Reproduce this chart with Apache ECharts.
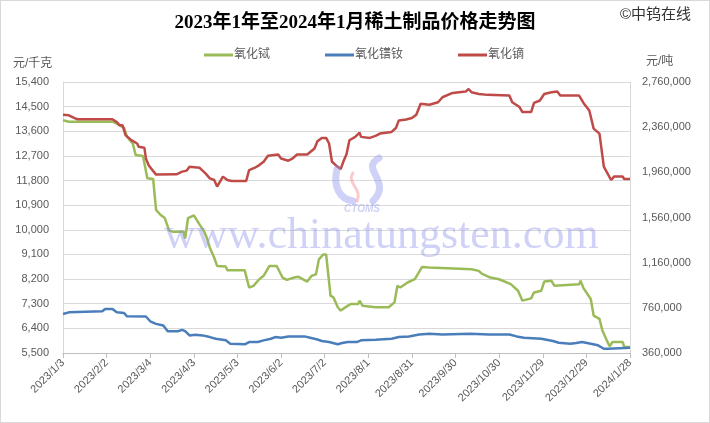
<!DOCTYPE html>
<html>
<head>
<meta charset="utf-8">
<script src="https://cdn.jsdelivr.net/npm/echarts@6/dist/echarts.min.js"></script>
<style>
html,body{margin:0;padding:0;background:#fff;}
#c{width:710px;height:423px;box-sizing:border-box;border:1px solid #d9d9d9;}
</style>
</head>
<body>
<div id="c"></div>
<script>
// X axis tick labels (every 30 days)
const xTickLabels = ['2023/1/3','2023/2/2','2023/3/4','2023/4/3','2023/5/3','2023/6/2','2023/7/2','2023/8/1','2023/8/31','2023/9/30','2023/10/30','2023/11/29','2023/12/29','2024/1/28'];
// Left axis ticks (元/千克) and right axis ticks (元/吨)
const leftTicks = [5500,6400,7300,8200,9100,10000,10900,11800,12700,13600,14500,15400];
const rightTicks = [360000,760000,1160000,1560000,1960000,2360000,2760000];

// 氧化铽 (元/千克, left axis)
const tbDates = ['2023/1/3','2023/1/7','2023/2/6','2023/2/9','2023/2/14','2023/2/16','2023/2/20','2023/2/22','2023/2/27','2023/2/28','2023/3/2','2023/3/6','2023/3/8','2023/3/11','2023/3/14','2023/3/17','2023/3/20','2023/3/27','2023/3/28','2023/3/30','2023/4/3','2023/4/7','2023/4/10','2023/4/12','2023/4/14','2023/4/17','2023/4/19','2023/4/25','2023/4/26','2023/5/8','2023/5/11','2023/5/14','2023/5/18','2023/5/21','2023/5/25','2023/5/30','2023/6/3','2023/6/6','2023/6/11','2023/6/14','2023/6/20','2023/6/23','2023/6/26','2023/6/28','2023/7/1','2023/7/3','2023/7/6','2023/7/8','2023/7/11','2023/7/13','2023/7/18','2023/7/20','2023/7/25','2023/7/26','2023/7/28','2023/8/6','2023/8/15','2023/8/19','2023/8/21','2023/8/23','2023/8/28','2023/9/2','2023/9/7','2023/9/12','2023/10/11','2023/10/16','2023/10/18','2023/10/24','2023/10/30','2023/11/7','2023/11/12','2023/11/15','2023/11/21','2023/11/23','2023/11/28','2023/11/30','2023/12/5','2023/12/7','2023/12/24','2023/12/25','2023/12/27','2024/1/1','2024/1/3','2024/1/7','2024/1/9','2024/1/12','2024/1/14','2024/1/16','2024/1/23','2024/1/24','2024/1/28'];
const tbValues = [14000,13950,13950,13880,13720,13400,13150,12730,12700,12430,11880,11860,10730,10550,10430,9970,9925,9925,9680,10430,10530,10190,9950,9700,9345,8980,8680,8656,8520,8520,7894,7955,8195,8318,8680,8680,8257,8173,8257,8282,8111,8318,8377,8920,9100,9100,7593,7532,7170,7050,7230,7289,7289,7410,7230,7170,7170,7350,7955,7894,8075,8195,8644,8620,8560,8500,8400,8257,8195,8014,7775,7412,7495,7713,7775,8111,8137,7955,8014,8137,7870,7471,6868,6745,6324,5962,5745,5900,5900,5719,5719];

// 氧化镨钕 (元/吨, right axis)
const prndDates = ['2023/1/3','2023/1/7','2023/1/30','2023/2/1','2023/2/6','2023/2/9','2023/2/14','2023/2/16','2023/3/1','2023/3/4','2023/3/8','2023/3/13','2023/3/16','2023/3/23','2023/3/26','2023/3/28','2023/3/31','2023/4/4','2023/4/9','2023/4/14','2023/4/18','2023/4/25','2023/4/28','2023/5/8','2023/5/11','2023/5/17','2023/5/21','2023/5/26','2023/5/29','2023/6/2','2023/6/7','2023/6/18','2023/6/22','2023/6/27','2023/6/30','2023/7/5','2023/7/11','2023/7/14','2023/7/18','2023/7/24','2023/7/27','2023/8/6','2023/8/17','2023/8/22','2023/8/29','2023/9/5','2023/9/12','2023/9/21','2023/10/10','2023/10/23','2023/11/6','2023/11/11','2023/11/16','2023/11/28','2023/12/6','2023/12/10','2023/12/18','2023/12/22','2023/12/26','2024/1/1','2024/1/6','2024/1/10','2024/1/13','2024/1/14','2024/1/28'];
const prndValues = [705000,720000,729000,750000,750000,720000,714000,685000,683000,641000,618000,603000,553000,553000,565000,553000,516000,521000,516000,501000,486000,472000,442000,437000,457000,457000,472000,486000,501000,495000,507000,507000,495000,480000,466000,457000,437000,448000,457000,457000,472000,477000,486000,501000,507000,524000,530000,524000,530000,524000,524000,507000,495000,486000,466000,451000,442000,448000,457000,442000,428000,398000,398000,407000,407000];

// 氧化镝 (元/吨, right axis)
const dyDates = ['2023/1/3','2023/1/7','2023/1/11','2023/1/13','2023/2/6','2023/2/9','2023/2/11','2023/2/13','2023/2/15','2023/2/19','2023/2/23','2023/2/24','2023/2/28','2023/3/1','2023/3/3','2023/3/8','2023/3/22','2023/3/26','2023/3/29','2023/3/31','2023/4/7','2023/4/11','2023/4/14','2023/4/17','2023/4/19','2023/4/23','2023/4/26','2023/4/29','2023/5/9','2023/5/11','2023/5/15','2023/5/18','2023/5/21','2023/5/24','2023/5/31','2023/6/2','2023/6/7','2023/6/10','2023/6/13','2023/6/20','2023/6/25','2023/6/27','2023/6/30','2023/7/3','2023/7/5','2023/7/7','2023/7/10','2023/7/13','2023/7/15','2023/7/17','2023/7/19','2023/7/23','2023/7/26','2023/7/27','2023/8/2','2023/8/6','2023/8/9','2023/8/17','2023/8/20','2023/8/22','2023/8/27','2023/8/31','2023/9/3','2023/9/6','2023/9/12','2023/9/18','2023/9/21','2023/9/28','2023/10/7','2023/10/9','2023/10/11','2023/10/16','2023/10/22','2023/11/6','2023/11/8','2023/11/13','2023/11/15','2023/11/21','2023/11/23','2023/11/27','2023/11/30','2023/12/5','2023/12/9','2023/12/11','2023/12/24','2023/12/25','2023/12/27','2023/12/31','2024/1/3','2024/1/7','2024/1/10','2024/1/15','2024/1/17','2024/1/23','2024/1/24','2024/1/28'];
const dyValues = [2470000,2465000,2440000,2430000,2430000,2405000,2376000,2376000,2290000,2245000,2215000,2186000,2177000,2083000,2020000,1940000,1942000,1966000,1975000,2010000,2000000,1951000,1907000,1892000,1834000,1922000,1892000,1883000,1883000,1980000,2001000,2024000,2054000,2107000,2118000,2083000,2063000,2083000,2118000,2118000,2171000,2235000,2265000,2265000,2215000,2054000,2019000,1989000,2060000,2120000,2244000,2274000,2312000,2274000,2265000,2283000,2303000,2318000,2353000,2420000,2428000,2441000,2470000,2567000,2558000,2581000,2625000,2663000,2675000,2698000,2669000,2654000,2646000,2640000,2581000,2538000,2494000,2494000,2575000,2596000,2654000,2669000,2675000,2640000,2640000,2654000,2575000,2508000,2347000,2303000,2010000,1892000,1922000,1922000,1901000,1901000];

const BASE = Date.UTC(2023,0,3);
function dayOf(s){ const p = s.split('/').map(Number); return (Date.UTC(p[0],p[1]-1,p[2]) - BASE)/86400000; }
function pairs(dates, vals){ return dates.map((d,i)=>[dayOf(d), vals[i]]); }
function fmt(n){ return n.toString().replace(/\B(?=(\d{3})+(?!\d))/g, ','); }

const xMax = dayOf(xTickLabels[xTickLabels.length-1]);
const labelColor = '#595959';
const sans = 'Liberation Sans, Noto Sans CJK SC, sans-serif';
const wm = 'rgba(140,145,235,0.42)';

const chart = echarts.init(document.getElementById('c'), null, {renderer:'canvas'});
chart.setOption({
  animation:false,
  backgroundColor:'#fff',
  title:{
    text:'2023年1年至2024年1月稀土制品价格走势图',
    left:'center', top:8,
    textStyle:{fontSize:19, fontWeight:'bold', color:'#000', fontFamily:'Liberation Serif, Noto Sans CJK SC, serif'}
  },
  legend:{
    left:198, top:43, itemWidth:29, itemHeight:3, itemGap:55, icon:'rect',
    textStyle:{fontSize:12, color:labelColor, fontFamily:sans, padding:[0,0,0,-4]},
    data:['氧化铽','氧化镨钕','氧化镝']
  },
  grid:{left:62, right:79, top:81, bottom:69},
  xAxis:{
    type:'value', min:0, max:xMax, interval:30,
    axisLine:{show:true, lineStyle:{color:'#bfbfbf'}},
    axisTick:{show:true, length:5, lineStyle:{color:'#bfbfbf'}},
    splitLine:{show:false},
    axisLabel:{rotate:45, fontSize:11, color:labelColor, fontFamily:sans, margin:8,
      formatter:function(v){ const i = Math.round(v/30); return xTickLabels[i] || ''; }}
  },
  yAxis:[{
    type:'value', min:leftTicks[0], max:leftTicks[leftTicks.length-1], interval:leftTicks[1]-leftTicks[0],
    axisLine:{show:true, lineStyle:{color:'#d9d9d9'}},
    axisTick:{show:false},
    splitLine:{show:true, lineStyle:{color:'#d9d9d9'}},
    axisLabel:{fontSize:11, color:labelColor, fontFamily:sans, margin:14, formatter:fmt}
  },{
    type:'value', min:rightTicks[0], max:rightTicks[rightTicks.length-1], interval:rightTicks[1]-rightTicks[0],
    position:'right',
    axisLine:{show:true, lineStyle:{color:'#d9d9d9'}},
    axisTick:{show:false},
    splitLine:{show:false},
    axisLabel:{fontSize:11, color:labelColor, fontFamily:sans, margin:12, formatter:fmt}
  }],
  series:[
    {name:'氧化铽', type:'line', yAxisIndex:0, data:pairs(tbDates,tbValues), showSymbol:false, symbol:'none',
      lineStyle:{width:2.5, color:'#9BBB59'}, itemStyle:{color:'#9BBB59'}},
    {name:'氧化镨钕', type:'line', yAxisIndex:1, data:pairs(prndDates,prndValues), showSymbol:false, symbol:'none',
      lineStyle:{width:2.5, color:'#4A7EBB'}, itemStyle:{color:'#4A7EBB'}},
    {name:'氧化镝', type:'line', yAxisIndex:1, data:pairs(dyDates,dyValues), showSymbol:false, symbol:'none',
      lineStyle:{width:2.5, color:'#BE4B48'}, itemStyle:{color:'#BE4B48'}}
  ],
  graphic:[
    {type:'text', left:619, top:6, style:{text:'©中钨在线', fontSize:15, fill:'#333', fontFamily:sans}},
    {type:'text', left:12, top:57, style:{text:'元/千克', fontSize:12, fill:labelColor, fontFamily:sans}},
    {type:'text', left:645, top:55, style:{text:'元/吨', fontSize:12, fill:labelColor, fontFamily:sans}},
    {type:'text', left:163, top:213, z:100, style:{text:'www.chinatungsten.com', fontSize:44, fill:wm, fontFamily:'Liberation Serif, serif'}},
    {type:'text', left:343, top:203, z:100, style:{text:'CTOMS', fontSize:10, fontStyle:'italic', fontWeight:'bold', fill:wm, fontFamily:sans}},
    {type:'bezierCurve', z:100, shape:{x1:336,y1:168,cpx1:332,cpy1:185,cpx2:338,cpy2:198,x2:352,y2:200}, style:{stroke:wm, lineWidth:7, fill:null, lineCap:'round'}},
    {type:'bezierCurve', z:100, shape:{x1:352,y1:172,cpx1:345,cpy1:182,cpx2:362,cpy2:188,x2:356,y2:200}, style:{stroke:'rgba(245,150,160,0.5)', lineWidth:3, fill:null, lineCap:'round'}},
    {type:'bezierCurve', z:100, shape:{x1:378,y1:157,cpx1:358,cpy1:168,cpx2:392,cpy2:180,x2:372,y2:200}, style:{stroke:wm, lineWidth:7, fill:null, lineCap:'round'}}
  ]
});
</script>
</body>
</html>
